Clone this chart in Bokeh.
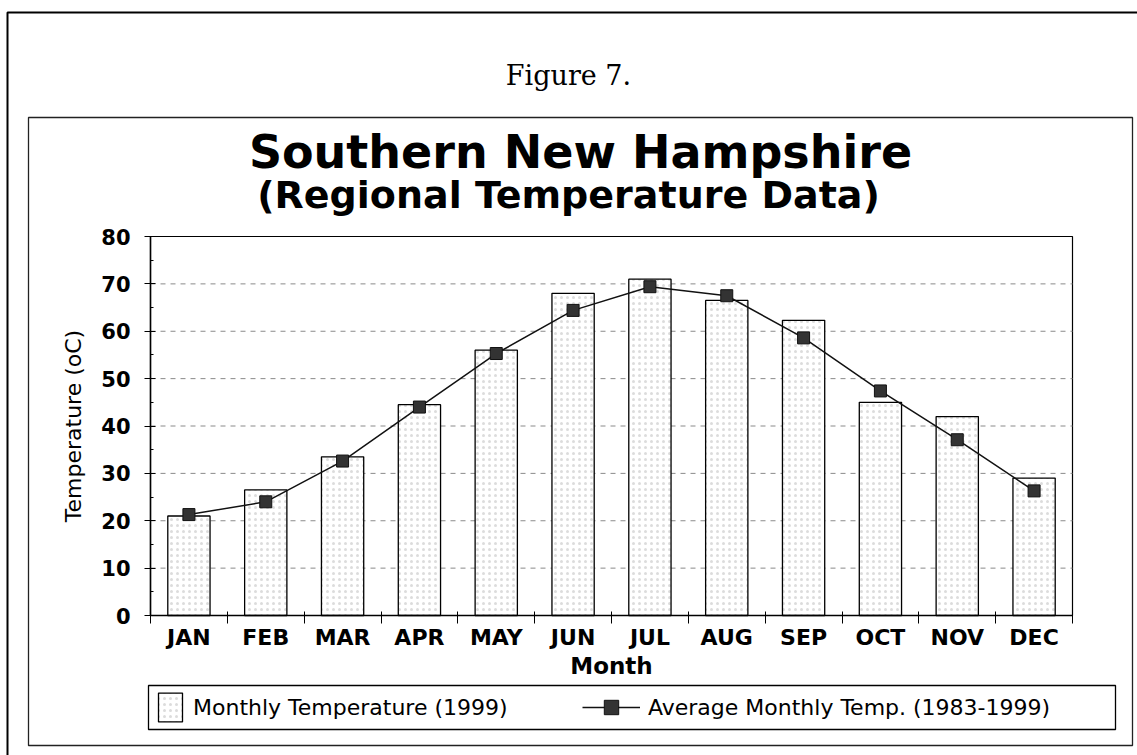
from bokeh.plotting import figure
from bokeh.models import (Label, BoxAnnotation, Legend, LegendItem, FixedTicker, LinearAxis,
                          SingleIntervalTicker, Range1d, ColumnDataSource)
from bokeh.embed import file_html
from bokeh.resources import INLINE

months = ["JAN", "FEB", "MAR", "APR", "MAY", "JUN",
          "JUL", "AUG", "SEP", "OCT", "NOV", "DEC"]
temp_1999 = [21, 26.5, 33.5, 44.5, 56, 68, 71, 66.5, 62.3, 45, 42, 29]
avg_temp = [21.3, 24.0, 32.6, 44.0, 55.3, 64.4, 69.4, 67.5, 58.6, 47.4, 37.1, 26.3]
y_ticks = [0, 10, 20, 30, 40, 50, 60, 70, 80]

n = len(months)
xpos = [i + 0.5 for i in range(n)]
src = ColumnDataSource(dict(x=xpos, month=months, t99=temp_1999, avg=avg_temp))
grid_src = ColumnDataSource(dict(y=y_ticks[1:-1], x0=[0] * 7, x1=[n] * 7))

SANS = "DejaVu Sans"
W, H = 1137, 755
# plot area on the page: x 150..1072, y 236 (80) .. 615 (0)
px_x = (1072 - 150) / n
px_y = (615 - 236) / y_ticks[-1]
x_start = -150 / px_x
y_start = -(H - 615) / px_y

p = figure(width=W, height=H, output_backend="svg", toolbar_location=None,
           x_axis_type=None, y_axis_type=None, min_border=0,
           x_range=Range1d(x_start, x_start + W / px_x),
           y_range=Range1d(y_start, y_start + H / px_y))
p.outline_line_color = None
p.background_fill_color = "white"
p.border_fill_color = "white"
p.grid.visible = False

# dashed horizontal grid lines across the plot area
p.segment(x0="x0", x1="x1", y0="y", y1="y", source=grid_src,
          line_color="#8a8a8a", line_dash="5 5", line_width=1)

# bars
bars = p.vbar(x="x", top="t99", width=0.55, bottom=0, source=src,
              fill_color="white", line_color="black", line_width=1.3,
              hatch_pattern="dot", hatch_color="#dcdcdc", hatch_scale=6, hatch_weight=0.8)
# average line + markers
ln = p.line(x="x", y="avg", source=src, line_color="#111111", line_width=1.5)
mk = p.scatter(x="x", y="avg", source=src, marker="square", size=12,
               fill_color="#333333", line_color="#111111", line_width=1)

# plot-area border
p.add_layout(BoxAnnotation(left=0, right=n, bottom=0, top=y_ticks[-1],
                           fill_alpha=0, fill_color=None, line_color="black",
                           line_alpha=1, line_width=1.2, level="underlay"))

# x axis
xa = LinearAxis(fixed_location=0, bounds=(0, n))
xa.ticker = FixedTicker(ticks=xpos, minor_ticks=list(range(0, n + 1)))
xa.major_label_overrides = {x: m for x, m in zip(xpos, months)}
xa.major_tick_in = 0
xa.major_tick_out = 0
xa.minor_tick_in = 4
xa.minor_tick_out = 8
xa.minor_tick_line_color = "black"
xa.axis_line_color = "black"
xa.axis_line_width = 1.5
xa.major_label_text_font = SANS
xa.major_label_text_font_style = "bold"
xa.major_label_text_font_size = "22px"
xa.major_label_text_color = "black"
xa.major_label_standoff = 1
xa.axis_label = "Month"
xa.axis_label_text_font = SANS
xa.axis_label_text_font_style = "bold"
xa.axis_label_text_font_size = "23px"
xa.axis_label_text_color = "black"
xa.axis_label_standoff = 0
p.add_layout(xa, "below")

# y axis
ya = LinearAxis(fixed_location=0, bounds=(0, y_ticks[-1]))
ya.ticker = SingleIntervalTicker(interval=10, num_minor_ticks=2)
ya.major_tick_in = 5
ya.major_tick_out = 6
ya.minor_tick_in = 3
ya.minor_tick_out = 0
ya.major_tick_line_color = "black"
ya.minor_tick_line_color = "black"
ya.axis_line_color = "black"
ya.axis_line_width = 1.5
ya.major_label_text_font = SANS
ya.major_label_text_font_style = "bold"
ya.major_label_text_font_size = "21px"
ya.major_label_text_color = "black"
ya.major_label_standoff = 14
ya.axis_label = "Temperature (oC)"
ya.axis_label_text_font = SANS
ya.axis_label_text_font_style = "normal"
ya.axis_label_text_font_size = "22px"
ya.axis_label_text_color = "black"
ya.axis_label_standoff = 12
p.add_layout(ya, "left")

# page boxes (screen px from bottom-left of the canvas)
def sbox(l, r, t, b, w, color="black"):
    return BoxAnnotation(left=l, right=r, top=H - t, bottom=H - b,
                         left_units="screen", right_units="screen",
                         top_units="screen", bottom_units="screen",
                         fill_alpha=0, fill_color=None, line_color=color, line_alpha=1,
                         line_width=w, level="underlay")

p.add_layout(sbox(7, 1150, 12, 770, 2.0))               # outer page frame
p.add_layout(sbox(28, 1132, 117, 745, 1.3, "#222222"))  # chart frame
p.add_layout(sbox(148, 1115, 685, 729, 1.3))            # legend frame

# titles
def slabel(txt, x, y, font, size, style="normal"):
    return Label(x=x, y=H - y, x_units="screen", y_units="screen", text=txt,
                 text_font=font, text_font_size=size, text_font_style=style,
                 text_align="center", text_baseline="middle", text_color="black")

p.add_layout(slabel("Figure 7.", 568, 75, "DejaVu Serif", "27px"))
p.add_layout(slabel("Southern New Hampshire", 580, 151, SANS, "46px", "bold"))
p.add_layout(slabel("(Regional Temperature Data)", 568, 194, SANS, "38px", "bold"))

# legends (two, so each entry keeps its own glyph size)
leg1 = Legend(items=[LegendItem(label="Monthly Temperature (1999)", renderers=[bars])],
              location=(155, H - 725), glyph_width=30, glyph_height=36, padding=0, margin=0,
              label_standoff=8, label_text_font=SANS, label_text_font_size="22px",
              label_text_color="black", border_line_alpha=0, background_fill_alpha=0)
leg2 = Legend(items=[LegendItem(label="Average Monthly Temp. (1983-1999)", renderers=[ln, mk])],
              location=(582, H - 725), glyph_width=58, glyph_height=36, padding=0, margin=0,
              label_standoff=8, label_text_font=SANS, label_text_font_size="22px",
              label_text_color="black", border_line_alpha=0, background_fill_alpha=0)
p.add_layout(leg1, "center")
p.add_layout(leg2, "center")

open("out.html", "w").write(file_html(p, INLINE))
